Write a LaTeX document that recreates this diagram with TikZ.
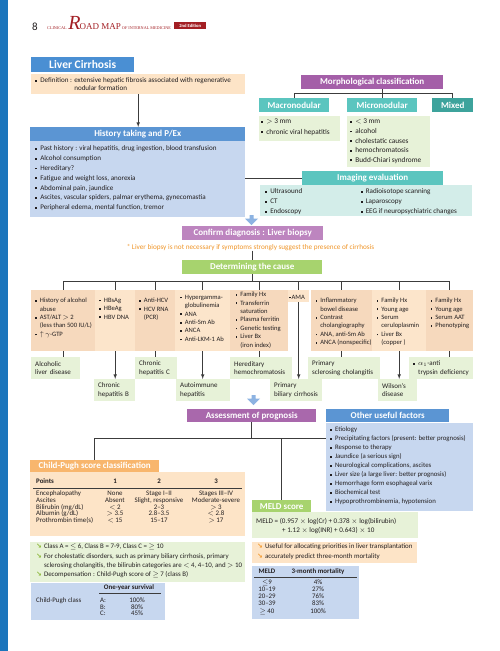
\documentclass[tikz,border=0pt]{standalone}
\usepackage{fontspec}
\setmainfont{Carlito}
\newfontfamily\symfont{DejaVu Sans}
\newfontfamily\serifhd{Liberation Serif}
\usetikzlibrary{calc}

\definecolor{ink}{HTML}{231F20}
\definecolor{barblue}{HTML}{1B75BC}
\definecolor{titleblue}{HTML}{4A8FD3}
\definecolor{hdrblue}{HTML}{5B95D3}
\definecolor{lightblue}{HTML}{C7D7EF}
\definecolor{purpleA}{HTML}{A45FA8}
\definecolor{purpleB}{HTML}{BD85BF}
\definecolor{purpleC}{HTML}{A968AC}
\definecolor{tealA}{HTML}{5BC5BF}
\definecolor{tealB}{HTML}{3DA39C}
\definecolor{palegreen}{HTML}{E7F2D8}
\definecolor{paleteal}{HTML}{D3EDE9}
\definecolor{greenA}{HTML}{A7D36E}
\definecolor{peach}{HTML}{FDE4C7}
\definecolor{peachA}{HTML}{F6D9BD}
\definecolor{peachB}{HTML}{FCE5CB}
\definecolor{orangehd}{HTML}{F8B66D}
\definecolor{notetxt}{HTML}{F0962A}
\definecolor{arrowblue}{HTML}{8DB3E2}
\definecolor{linegray}{HTML}{3C3C3C}
\definecolor{hdred}{HTML}{A31F24}
\definecolor{arrgreen}{HTML}{8DB83A}
\definecolor{arrorange}{HTML}{F29A2E}

\newcommand{\bl}{\rule[0.3ex]{0.55ex}{0.55ex}\hspace{0.45em}}
\newcommand{\ind}{\hphantom{\bl}}
\newcommand{\garr}{{\symfont\bfseries\textcolor{arrgreen}{↘}}\hspace{0.3em}}
\newcommand{\oarr}{{\symfont\bfseries\textcolor{arrorange}{↘}}\hspace{0.3em}}

\begin{document}
\begin{tikzpicture}[x=1pt, y=-1pt, every node/.style={inner sep=0pt, text=ink},
  hdr/.style={anchor=north west, text=white, font=\bfseries\fontsize{9}{9}\selectfont},
  bx/.style={anchor=north west},
  txt/.style={anchor=north west, align=left, font=\fontsize{7.1}{9.8}\selectfont},
  ctxt/.style={anchor=north west, align=left, font=\fontsize{6.6}{8.4}\selectfont},
  res/.style={anchor=north west, fill=palegreen, align=left, inner xsep=4pt,
              minimum height=22pt, font=\fontsize{7}{8.6}\selectfont},
  cell/.style={anchor=base, font=\fontsize{6.9}{6.9}\selectfont},
  ln/.style={draw=linegray, line width=0.6pt},
  arr/.style={ln, -latex},
  downarr/.pic={\fill[arrowblue] (-2,0) -- (2,0) -- (2,3.5) -- (6.5,3.5) -- (0,10)
                -- (-6.5,3.5) -- (-2,3.5) -- cycle;}]
\fill[white] (0,0) rectangle (500,651);
\useasboundingbox (0,0) rectangle (500,651);
\fill[barblue] (0,0) rectangle (8,651);

% running head
\node[anchor=base, font=\fontsize{11}{11}\selectfont] (pgnum) at (35,30) {8};
\node[anchor=base west, font=\serifhd, text=hdred] (runhead) at (47,29)
  {\fontsize{4.2}{5}\selectfont CLINICAL\hspace{1.5pt}{\fontsize{20}{20}\selectfont\itshape R}\hspace{-1pt}{\fontsize{9}{9}\selectfont OAD MAP}\hspace{1.2pt}OF INTERNAL MEDICINE};
\node[anchor=west, fill=hdred, text=white, font=\bfseries\fontsize{4.6}{5}\selectfont,
      minimum width=32, minimum height=7.5] (edition) at (174,25.7) {2nd Edition};

% definition
\node[hdr, fill=titleblue, minimum width=103, minimum height=15,
      font=\bfseries\fontsize{11.5}{11.5}\selectfont] (title) at (31,57) {Liver Cirrhosis};
\node[bx, fill=peach, minimum width=214, minimum height=20] (defbox) at (31,74) {};
\node[txt, font=\fontsize{7.1}{7.6}\selectfont] (deftxt) at (35,77.4)
  {\bl Definition : extensive hepatic fibrosis associated with regenerative\\
   \ind\hphantom{Definition : }nodular formation};

% morphology
\node[hdr, fill=purpleA, minimum width=142, minimum height=14] (morph) at (301,75) {Morphological classification};
\node[hdr, fill=tealA, minimum width=70, minimum height=14] (macro) at (259,98) {Macronodular};
\node[hdr, fill=tealA, minimum width=70, minimum height=14] (micro) at (347,98) {Micronodular};
\node[hdr, fill=tealB, minimum width=41, minimum height=14] (mixed) at (432,98) {Mixed};
\draw[ln] (micro.north) -- (micro.north |- morph.south);
\draw[ln] (macro.north) -- ++(0,-5) coordinate (mj) -- (mixed.north |- mj) -- (mixed.north);
\node[bx, fill=palegreen, minimum width=81, minimum height=25] (macrobox) at (259,116) {};
\node[txt, font=\fontsize{7.3}{10.3}\selectfont] (macrotxt) at (261,119)
  {\bl $>$ 3 mm\\ \bl chronic viral hepatitis};
\node[bx, fill=palegreen, minimum width=83, minimum height=51] (microbox) at (347,116) {};
\node[txt, font=\fontsize{7.3}{9.6}\selectfont] (microtxt) at (350,119)
  {\bl $<$ 3 mm\\ \bl alcohol\\ \bl cholestatic causes\\ \bl hemochromatosis\\ \bl Budd-Chiari syndrome};

% history
\node[hdr, fill=hdrblue, minimum width=215, minimum height=14] (hist) at (30,127) {History taking and P/Ex};
\node[bx, fill=lightblue, minimum width=215, minimum height=76] (histbox) at (30,141) {};
\node[txt, font=\fontsize{7.1}{9.8}\selectfont] (histtxt) at (35,145.7)
  {\bl Past history : viral hepatitis, drug ingestion, blood transfusion\\
   \bl Alcohol consumption\\ \bl Hereditary?\\ \bl Fatigue and weight loss, anorexia\\
   \bl Abdominal pain, jaundice\\ \bl Ascites, vascular spiders, palmar erythema, gynecomastia\\
   \bl Peripheral edema, mental function, tremor};
\draw[arr] (defbox.south) -- (defbox.south |- hist.north);

% imaging
\node[hdr, fill=tealA, minimum width=141, minimum height=14] (imag) at (302,171) {Imaging evaluation};
\node[bx, fill=paleteal, minimum width=212, minimum height=31] (imagbox) at (260,185) {};
\node[txt, font=\fontsize{7.1}{10}\selectfont] (imagtxtA) at (265,188.4)
  {\bl Ultrasound\\ \bl CT\\ \bl Endoscopy};
\node[txt, font=\fontsize{7.1}{10}\selectfont] (imagtxtB) at (360.5,188.4)
  {\bl Radioisotope scanning\\ \bl Laparoscopy\\ \bl EEG if neuropsychiatric changes};
\draw[ln] (histbox.east |- imag.west) -- (imag.west);

% diagnosis and cause
\pic at (251.5,215) {downarr};
\node[hdr, fill=purpleB, minimum width=141, minimum height=14] (confirm) at (182,226) {Confirm diagnosis : Liver biopsy};
\node[anchor=base, text=notetxt, font=\fontsize{7.2}{7.2}\selectfont] (note) at (250.5,249.3)
  {* Liver biopsy is not necessary if symptoms strongly suggest the presence of cirrhosis};
\node[hdr, fill=greenA, minimum width=140, minimum height=14] (cause) at (182,260) {Determining the cause};
\draw[ln] (note.south -| cause.north) -- (cause.north);

\foreach \nm/\xa/\bw/\cl in {calc/31/64/peachA, chbv/95/40/peachB, chcv/135/40/peachA,
    caih/175/55/peachB, chemo/230/58/peachA, cpsc/311/61/peachA, cwil/372/54/peachB, caat/426/47/peachA}
  \node[bx, fill=\cl, minimum width=\bw, minimum height=61] (\nm) at (\xa,290) {};
\node[bx, fill=peachB, minimum width=21, minimum height=12] (cama) at (288,290) {};

\draw[ln] (cause.south) -- ++(0,7) coordinate (cj);
\draw[ln] (calc.north |- cj) -- (caat.north |- cj);
\foreach \nm in {calc, chbv, chcv, caih, chemo, cama, cpsc, cwil, caat}
  \draw[ln] (\nm.north |- cj) -- (\nm.north);

\node[ctxt] (calctxt) at (35,297.9)
  {\bl History of alcohol\\ \ind abuse\\ \bl AST/ALT $>$ 2\\ \ind(less than 500 IU/L)\\ \bl $\uparrow$ $\gamma$-GTP};
\node[ctxt] (chbvtxt) at (99,297.9) {\bl HBsAg\\ \bl HBeAg\\ \bl HBV DNA};
\node[ctxt] (chcvtxt) at (139,297.9) {\bl Anti-HCV\\ \bl HCV RNA\\ \ind(PCR)};
\node[ctxt] (caihtxt) at (180,294.9)
  {\bl Hypergamma-\\ \ind globulinemia\\ \bl ANA\\ \bl Anti-Sm Ab\\ \bl ANCA\\ \bl Anti-LKM-1 Ab};
\node[ctxt] (chemotxt) at (235.5,291.9)
  {\bl Family Hx\\ \bl Transferrin\\ \ind saturation\\ \bl Plasma ferritin\\ \bl Genetic testing\\ \bl Liver Bx\\ \ind(iron index)};
\node[ctxt] (camatxt) at (289,294.9) {\rule[0.3ex]{0.55ex}{0.55ex}\hspace{0.1em}AMA};
\node[ctxt] (cpsctxt) at (315.5,297.9)
  {\bl Inflammatory\\ \ind bowel disease\\ \bl Contrast\\ \ind cholangiography\\ \bl ANA, anti-Sm Ab\\ \bl ANCA (nonspecific)};
\node[ctxt] (cwiltxt) at (376.5,297.9)
  {\bl Family Hx\\ \bl Young age\\ \bl Serum\\ \ind ceruloplasmin\\ \bl Liver Bx\\ \ind(copper )};
\node[ctxt] (caattxt) at (430.5,297.9) {\bl Family Hx\\ \bl Young age\\ \bl Serum AAT\\ \bl Phenotyping};

% results
\node[res, text width=41] (ralc) at (31,357) {Alcoholic\\ liver~disease};
\node[res, text width=33] (rhbv) at (94,379) {Chronic\\ hepatitis~B};
\node[res, text width=34] (rhcv) at (135,357) {Chronic\\ hepatitis~C};
\node[res, text width=46] (raih) at (176,379) {Autoimmune\\ hepatitis};
\node[res, text width=54] (rhemo) at (230,357) {Hereditary\\ hemochromatosis};
\node[res, text width=44] (rpbc) at (270,379) {Primary\\ biliary~cirrhosis};
\node[res, text width=64] (rpsc) at (308,357) {Primary\\ sclerosing~cholangitis};
\node[res, text width=31] (rwil) at (378,379) {Wilson's\\ disease};
\node[res, text width=56] (raat) at (409,357) {\bl $\alpha_1$-anti\\ \ind trypsin~deficiency};

\draw[ln] (calc.south) -- (calc.south |- ralc.north);
\draw[arr] (chbv.south) -- (chbv.south |- rhbv.north);
\draw[ln] (chcv.south) -- (chcv.south |- rhcv.north);
\draw[arr] (caih.south) -- (caih.south |- raih.north);
\draw[ln] (chemo.south) -- (chemo.south |- rhemo.north);
\draw[arr] (cama.south) -- (cama.south |- rpbc.north);
\draw[ln] (cpsc.south) -- (cpsc.south |- rpsc.north);
\draw[arr] (cwil.south) -- (cwil.south |- rwil.north);
\draw[ln] (caat.south) -- (caat.south |- raat.north);

% prognosis
\pic at (253.5,395) {downarr};
\node[hdr, fill=purpleC, minimum width=129, minimum height=13] (assess) at (187,409) {Assessment of prognosis};
\node[hdr, fill=hdrblue, minimum width=123, minimum height=13] (other) at (326,409) {Other useful factors};
\node[bx, fill=lightblue, minimum width=147, minimum height=88] (otherbox) at (326,423) {};
\node[txt, font=\fontsize{6.8}{9}\selectfont] (othertxt) at (330,426.7)
  {\bl Etiology\\ \bl Precipitating factors (present: better prognosis)\\ \bl Response to therapy\\
   \bl Jaundice (a serious sign)\\ \bl Neurological complications, ascites\\
   \bl Liver size (a large liver: better prognosis)\\ \bl Hemorrhage form esophageal varix\\
   \bl Biochemical test\\ \bl Hypoprothrombinemia, hypotension};

% Child-Pugh
\node[hdr, fill=orangehd, minimum width=129, minimum height=12] (cp) at (30,460) {Child-Pugh score classification};
\node[bx, fill=peach, minimum width=215, minimum height=64] (cpbox) at (30,472) {};
\node[cell, anchor=base west, font=\bfseries\fontsize{6.9}{6.9}\selectfont] (cpp) at (36,483.6) {Points};
\foreach \i/\xx in {1/115, 2/159, 3/216}
  \node[cell, font=\bfseries\fontsize{6.9}{6.9}\selectfont] (cpc\i) at (\xx,483.6) {\i};
\draw[line width=0.7pt, draw=linegray] ($(cpbox.north west)+(3,16)$) -- ($(cpbox.north east)+(-3,16)$);
\foreach \lab/\va/\vb/\vc [count=\rw] in {Encephalopathy/None/Stage I--II/Stages III--IV,
    Ascites/Absent/{Slight, responsive}/Moderate-severe,
    {Bilirubin (mg/dL)}/{$<$ 2}/2--3/{$>$ 3},
    {Albumin (g/dL)}/{$>$ 3.5}/2.8--3.5/{$<$ 2.8},
    {Prothrombin time(s)}/{$<$ 15}/15--17/{$>$ 17}}
{
  \node[cell, anchor=base west] (cpl\rw) at (36,489+6.7*\rw) {\lab};
  \node[cell] (cpa\rw) at (115,489+6.7*\rw) {\va};
  \node[cell] (cpb\rw) at (159,489+6.7*\rw) {\vb};
  \node[cell] (cpd\rw) at (216,489+6.7*\rw) {\vc};
}
\node[bx, fill=palegreen, minimum width=215, minimum height=40] (cpnote) at (30,542) {};
\node[txt, font=\fontsize{6.9}{9.3}\selectfont] (cpnotetxt) at (36,543.7)
  {\garr Class A = $\leq$ 6, Class B = 7-9, Class C = $\geq$ 10\\
   \garr For cholestatic disorders, such as primary biliary cirrhosis, primary\\
   \hphantom{\garr}sclerosing cholangitis, the bilirubin categories are $<$ 4, 4--10, and $>$ 10\\
   \garr Decompensation : Child-Pugh score of $\geq$ 7 (class B)};
\node[bx, fill=lightblue, minimum width=134, minimum height=37] (surv) at (31,583) {};
\node[cell, font=\bfseries\fontsize{6.9}{6.9}\selectfont] (survh) at (129,589.6) {One-year survival};
\draw[line width=0.7pt, draw=linegray] ($(surv.north west)+(68,10)$) -- ($(surv.north west)+(130,10)$);
\node[cell, anchor=base west] (survl) at (36,602.6) {Child-Pugh class};
\foreach \cls/\val [count=\rw] in {A/100, B/80, C/45}
{
  \node[cell, anchor=base west] (svk\rw) at (100,596.2+6.4*\rw) {\cls:};
  \node[cell] (svv\rw) at (137,596.2+6.4*\rw) {\val\%};
}

% MELD
\node[hdr, fill=greenA, minimum width=59, minimum height=12] (meld) at (252,500) {MELD score};
\node[bx, fill=palegreen, minimum width=166, minimum height=26] (meldbox) at (252,512) {};
\node[txt, font=\fontsize{7.1}{9}\selectfont] (meldtxt) at (256,517.7)
  {MELD = (0.957 $\times$ log(Cr) + 0.378 $\times$ log(bilirubin)\\
   \hspace{26pt}+ 1.12 $\times$ log(INR) + 0.643) $\times$ 10};
\node[bx, fill=peach, minimum width=165, minimum height=21] (meldnote) at (252,542) {};
\node[txt, font=\fontsize{6.9}{9.6}\selectfont] (meldnotetxt) at (257,543.7)
  {\oarr Useful for allocating priorities in liver transplantation\\ \oarr accurately predict three-month mortality};
\node[bx, fill=lightblue, minimum width=107, minimum height=53] (meldtab) at (252,566) {};
\node[cell, font=\bfseries\fontsize{6.9}{6.9}\selectfont] (mth1) at (267,573.6) {MELD};
\node[cell, font=\bfseries\fontsize{6.9}{6.9}\selectfont] (mth2) at (318,573.6) {3-month mortality};
\draw[line width=0.7pt, draw=linegray] ($(meldtab.north west)+(2,11)$) -- ($(meldtab.north east)+(-2,11)$);
\foreach \mv/\pv [count=\rw] in {$\leq$9/4, 10--19/27, 20--29/76, 30--39/83, $\geq$ 40/100}
{
  \node[cell] (mtm\rw) at (267,576.7+7.3*\rw) {\mv};
  \node[cell] (mtp\rw) at (318,576.7+7.3*\rw) {\pv\%};
}

\draw[ln] (assess.south) -- ++(0,16) coordinate (aj);
\draw[ln] (cp.north) -- (cp.north |- aj) -- (otherbox.west |- aj);
\draw[ln] (meld.north |- aj) -- (meld.north);
\end{tikzpicture}
\end{document}
